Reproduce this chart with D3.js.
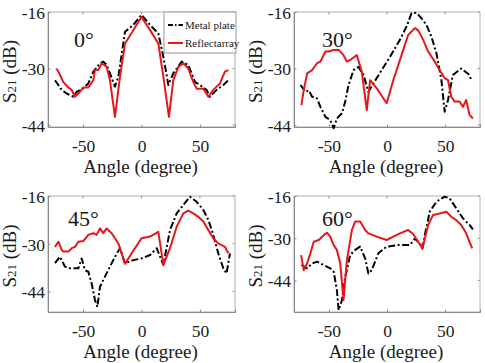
<!DOCTYPE html>
<html><head><meta charset="utf-8">
<script src="https://cdn.jsdelivr.net/npm/d3@7"></script>
<style>body{margin:0;background:#fff}svg{display:block}</style>
</head><body>
<svg id="c" width="485" height="363"></svg>
<script>
const xTicks = [-50, 0, 50];
const yTicks = [-16, -30, -44];
const panelTitles = ["0°", "30°", "45°", "60°"];
const legendLabels = ["Metal plate", "Reflectarray"];

const metal0 = [[-74,-32.9],[-68.3,-35.3],[-64,-36.2],[-58.3,-37],[-55.5,-35.8],[-49.8,-34.9],[-45.5,-33.7],[-41.2,-30.8],[-35.5,-28.7],[-32.7,-28.3],[-29.8,-29.1],[-27,-31.2],[-22.7,-34.5],[-19.8,-32],[-14.1,-20.9],[-7,-19.2],[0,-16.7],[7.3,-19.2],[14.4,-21.3],[18.7,-27.1],[23,-34.1],[27.2,-31.2],[34.4,-28.3],[40,-29.1],[45.7,-33.3],[50,-34.1],[55.7,-35.3],[58.5,-37],[64.3,-35.3],[70,-34.1],[74.3,-32.9]];
const refl0 = [[-73,-30],[-71,-30.8],[-67,-33.3],[-62.6,-34.7],[-59.7,-35.3],[-57,-37],[-54,-36.2],[-49.8,-34.7],[-45.5,-34.7],[-41.2,-32.9],[-39.8,-30.4],[-37,-30.4],[-34,-28.7],[-29.8,-29.6],[-27,-32.9],[-22.7,-42],[-18.4,-32],[-14.1,-23.8],[-7,-20.5],[0,-17.2],[7.3,-20.5],[14.4,-23.8],[18.7,-32],[23.5,-42],[27.2,-32.9],[31.5,-29.6],[35.8,-28.7],[40,-30],[44.3,-33.3],[47.2,-35],[52.9,-35],[57.2,-37],[61.4,-35.3],[67.1,-33.7],[71.4,-30.8],[74.3,-30.4]];

const metal30 = [[-74.4,-34.1],[-70.1,-35.8],[-67.3,-35.4],[-64.4,-37],[-60.2,-37.4],[-57.3,-39.5],[-53,-42],[-48.8,-42.8],[-45.9,-44.8],[-43.1,-42.4],[-38.8,-41.1],[-35.9,-38.2],[-33.1,-34.1],[-28.8,-30.4],[-24.5,-29.6],[-20.2,-31.6],[-16,-35.8],[-11.7,-33.7],[-4.6,-30.4],[2.6,-27.1],[11.1,-22.9],[16.8,-19.6],[21.1,-16.3],[25.4,-16.2],[29.7,-17.6],[33.9,-19.2],[38.2,-22.1],[42.5,-26.2],[46.8,-32.9],[49.6,-40.7],[52.5,-37.8],[56.7,-31.6],[63.9,-30],[71,-31.6],[72.4,-32.9]];
const refl30 = [[-73.6,-39.1],[-71.6,-35.3],[-68.7,-31.2],[-64.4,-30.4],[-60.2,-28.7],[-57.3,-28.3],[-53,-25.8],[-50.2,-25.8],[-45.9,-25.4],[-41.6,-25.4],[-37.4,-26.7],[-34.5,-28.3],[-31.7,-27.9],[-25.9,-26.7],[-21.7,-30.8],[-17.4,-40.3],[-14.5,-32.9],[-8.8,-34.9],[-0.3,-38.6],[5.4,-32.9],[12.5,-26.7],[18.2,-21.7],[24,-20],[26.8,-20.5],[31.1,-22.9],[35.4,-25.8],[41.1,-28.3],[45.3,-30.4],[49.6,-32.4],[52.5,-32.9],[55.3,-37],[58.2,-38.2],[62.4,-38.2],[65.3,-39.5],[68.1,-37.8],[71,-41.5],[73.9,-42.4]];

const metal45 = [[-74,-35.7],[-69.8,-33.8],[-68.3,-34.8],[-65.5,-36.7],[-61.2,-37.2],[-57,-37.2],[-54,-37.2],[-51.2,-34.3],[-48.4,-37.7],[-45.5,-38.2],[-42.7,-41.6],[-39.8,-46.5],[-37.8,-48.5],[-35.5,-42.6],[-32.7,-40.6],[-27,-36.7],[-22.7,-33.8],[-18.4,-31.3],[-14.1,-35.7],[-7,-34.8],[0,-34.3],[7.3,-33.3],[13,-31.3],[18.7,-36.2],[24.4,-26],[30.1,-21.1],[35.8,-18.6],[41.5,-16.2],[47.2,-17.7],[52.9,-20.1],[57.2,-23],[61.4,-27.4],[65.7,-32.8],[70,-37.2],[72.8,-38.7],[75.7,-32.8]];
const refl45 = [[-74,-30.9],[-71.1,-29.4],[-68.3,-31.8],[-66.9,-32.3],[-62.6,-32.3],[-59.7,-31.3],[-56.9,-30.9],[-54,-29.4],[-49.8,-29.2],[-45.5,-27.4],[-41.2,-26.9],[-38.4,-27.4],[-35.5,-25.5],[-32.7,-26.9],[-29.8,-25.5],[-25.5,-26.9],[-19.8,-29.9],[-14.1,-35.9],[-8.4,-32.8],[0,-28.4],[7.3,-27.9],[14.4,-26.5],[18.7,-36.2],[24.4,-31.3],[30.1,-25],[35.8,-21.1],[40,-20.3],[44.3,-21.1],[48.6,-22.1],[52.9,-23.5],[57.2,-26],[61.4,-28.4],[65.7,-29.9],[71.4,-30.9],[74.3,-32.8]];

const metal60 = [[-73.6,-38.9],[-68.7,-40],[-64.4,-38.4],[-60.2,-37.8],[-54.5,-38.9],[-48.8,-40],[-45.9,-41.1],[-43.1,-47.2],[-41.6,-53.9],[-38.8,-50.6],[-35.9,-42.8],[-31.7,-35.6],[-27.4,-33.9],[-23.1,-32.8],[-18.8,-36.7],[-16,-41.7],[-13.1,-40.6],[-7.4,-35],[-0.3,-32.8],[9.7,-32.3],[19.7,-32.3],[24,-30.1],[28.2,-31.7],[30.5,-33.4],[32.5,-29],[36.8,-21.2],[42.5,-17.9],[49.6,-16.2],[53.9,-16.8],[59.6,-20.1],[65.3,-23.4],[71,-25.6],[73.9,-27.1]];
const refl60 = [[-73.9,-35.6],[-71.6,-40.6],[-68.7,-38.4],[-65.9,-35],[-63,-31.2],[-58.7,-30.6],[-54.5,-29],[-51.6,-28.2],[-48.8,-29.5],[-45.9,-32.3],[-43.1,-33.9],[-40.2,-38.4],[-37.4,-50.6],[-34.5,-37.3],[-30.2,-27.3],[-27.4,-24.5],[-23.1,-24.5],[-18.8,-27.3],[-16,-28.4],[-8.8,-29.5],[-0.3,-30.6],[5.4,-29.5],[11.1,-28.4],[18.2,-27.3],[22.5,-28.6],[26.8,-31.2],[30.5,-33.4],[35.4,-25.6],[39.6,-22.3],[45.3,-21.8],[51,-21.2],[55.3,-22.9],[59.6,-24],[63.9,-25.6],[68.1,-28.4],[71,-31.2],[73.3,-33.4]];

const panels = [
  {metal: metal0, refl: refl0, x0: 48, x1: 235, y0: 12, y1: 127, yMin: -44.5, tx: 74, ty: 47, legend: true},
  {metal: metal30, refl: refl30, x0: 294, x1: 480, y0: 12, y1: 127, yMin: -44.5, tx: 322, ty: 47},
  {metal: metal45, refl: refl45, x0: 48, x1: 235, y0: 196, y1: 312, yMin: -50, tx: 68, ty: 226},
  {metal: metal60, refl: refl60, x0: 294, x1: 480, y0: 196, y1: 312, yMin: -54.5, tx: 322, ty: 226}
];

const svg = d3.select("#c");
const RED = "#e8161b";
const DASH = "7,2.5,2,2.5";
const FONT = "Liberation Serif";
const INK = "#1a1a1a";

panels.forEach((p, i) => {
  const x = d3.scaleLinear().domain([-80, 80]).range([p.x0, p.x1]);
  const y = d3.scaleLinear().domain([p.yMin, -16]).range([p.y1, p.y0]);
  const g = svg.append("g");
  g.append("rect").attr("x", p.x0).attr("y", p.y0).attr("width", p.x1 - p.x0).attr("height", p.y1 - p.y0)
    .attr("fill", "none").attr("stroke", "#b0b0b0").attr("stroke-width", 1);
  xTicks.forEach(t => {
    g.append("line").attr("x1", x(t)).attr("x2", x(t)).attr("y1", p.y0).attr("y2", p.y0 + 2.5).attr("stroke", "#999");
  });
  yTicks.forEach(t => {
    g.append("line").attr("x1", p.x1).attr("x2", p.x1 - 2.5).attr("y1", y(t)).attr("y2", y(t)).attr("stroke", "#999");
  });
  const xa = g.append("g").attr("transform", `translate(0,${p.y1})`)
    .call(d3.axisBottom(x).tickValues(xTicks).tickSize(-2.5).tickPadding(9).tickFormat(d => d < 0 ? "-" + Math.abs(d) : d));
  const ya = g.append("g").attr("transform", `translate(${p.x0},0)`)
    .call(d3.axisLeft(y).tickValues(yTicks).tickSize(-2.5).tickPadding(3).tickFormat(d => "-" + Math.abs(d)));
  [xa, ya].forEach(a => {
    a.attr("font-family", FONT).attr("font-size", 17.5);
    a.select(".domain").attr("stroke", "#888");
    a.selectAll(".tick line").attr("stroke", "#888");
    a.selectAll(".tick text").attr("fill", INK);
  });
  xa.selectAll(".tick text").attr("dy", "0.9em");
  ya.selectAll(".tick text").attr("dy", "0.36em");

  const line = d3.line().x(d => x(d[0])).y(d => y(d[1]));
  g.append("path").datum(p.metal).attr("d", line).attr("fill", "none").attr("stroke", "#000")
    .attr("stroke-width", 2).attr("stroke-dasharray", DASH).attr("stroke-linejoin", "round");
  g.append("path").datum(p.refl).attr("d", line).attr("fill", "none").attr("stroke", RED)
    .attr("stroke-width", 2).attr("stroke-linejoin", "round");

  g.append("text").attr("x", p.tx).attr("y", p.ty).attr("font-family", FONT).attr("font-size", 22).attr("fill", INK).text(panelTitles[i]);

  const cx = (p.x0 + p.x1) / 2;
  g.append("text").attr("x", cx - 1).attr("y", p.y1 + 46).attr("text-anchor", "middle").attr("font-family", FONT)
    .attr("font-size", 19).attr("fill", INK).text("Angle (degree)");
  const yt = g.append("text").attr("transform", `translate(${p.x0 - 32},${(p.y0 + p.y1) / 2 + 2}) rotate(-90)`)
    .attr("text-anchor", "middle").attr("font-family", FONT).attr("font-size", 19).attr("fill", INK);
  yt.append("tspan").text("S");
  yt.append("tspan").attr("font-size", 13).text("21");
  yt.append("tspan").text(" (dB)");

  if (p.legend) {
    const lx = 164, ly = 12;
    g.append("rect").attr("x", lx).attr("y", ly).attr("width", 72).attr("height", 41)
      .attr("fill", "#fff").attr("stroke", "#999");
    [[p.metal, "#000", DASH], [p.refl, RED, null]].forEach((s, k) => {
      const yy = ly + 13 + k * 18;
      const l = g.append("line").attr("x1", lx + 4).attr("x2", lx + 19).attr("y1", yy).attr("y2", yy)
        .attr("stroke", s[1]).attr("stroke-width", 2);
      if (s[2]) l.attr("stroke-dasharray", "5,2,1.5,2");
      g.append("text").attr("x", lx + 21).attr("y", yy + 3.5).attr("font-family", FONT).attr("font-size", 11)
        .attr("fill", INK).text(legendLabels[k]);
    });
  }
});
</script>
</body></html>
